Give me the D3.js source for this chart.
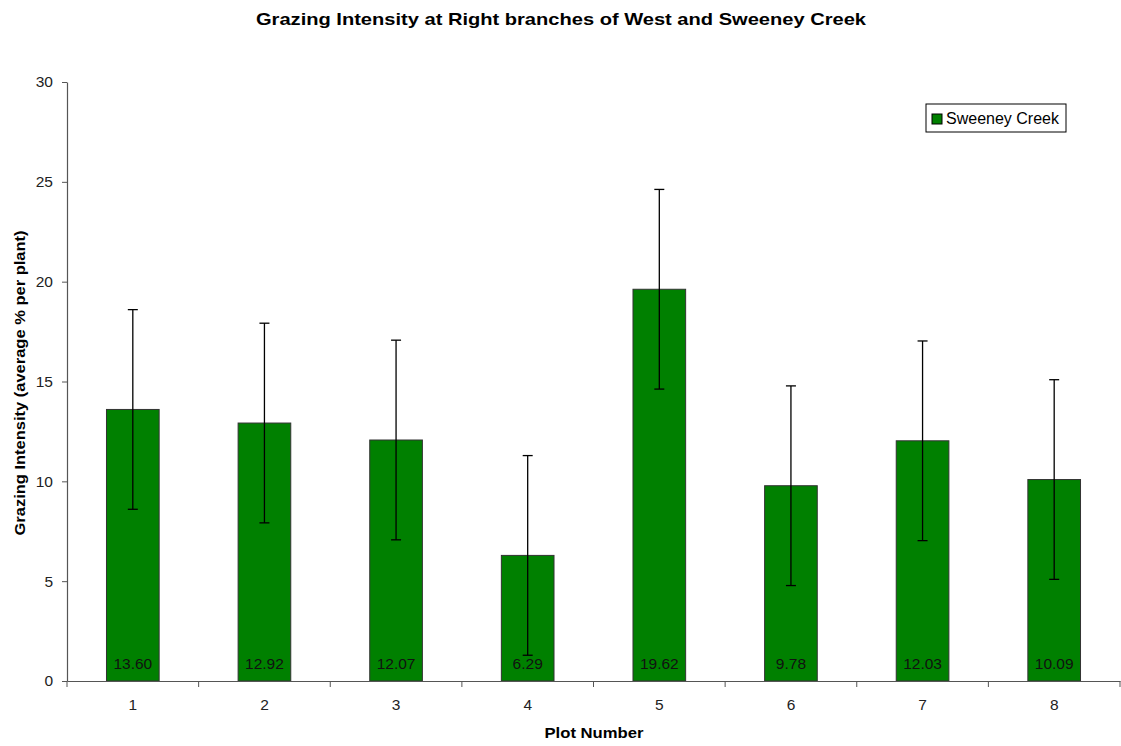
<!DOCTYPE html>
<html>
<head>
<meta charset="utf-8">
<script src="https://cdn.jsdelivr.net/npm/d3@7"></script>
<style>
    body { margin: 0; background: #fff; }
    svg { font-family: 'Liberation Sans', Arial, sans-serif; }
</style>
</head>
<body>
<svg id="chart" width="1121" height="746"></svg>
<script>
const plots = ['1', '2', '3', '4', '5', '6', '7', '8'];
const intensity = [13.60, 12.92, 12.07, 6.29, 19.62, 9.78, 12.03, 10.09];
const errors = [5, 5, 5, 5, 5, 5, 5, 5];
const yTicks = [0, 5, 10, 15, 20, 25, 30];

const svg = d3.select('#chart');
const margin = { left: 67, right: 1120, top: 82, bottom: 681 };

// Scales
const x = d3.scaleBand()
    .domain(plots)
    .range([margin.left, margin.right])
    .paddingInner(0.6)
    .paddingOuter(0.3);

const xOuter = d3.scaleBand()
    .domain(plots)
    .range([margin.left, margin.right]);

const y = d3.scaleLinear()
    .domain([0, 30])
    .range([margin.bottom, margin.top]);

// Title
svg.append('text')
    .attr('x', 561)
    .attr('y', 25)
    .attr('text-anchor', 'middle')
    .attr('font-size', 17)
    .attr('font-weight', 'bold')
    .attr('textLength', 610)
    .attr('lengthAdjust', 'spacingAndGlyphs')
    .text('Grazing Intensity at Right branches of West and Sweeney Creek');

// Bars
svg.append('g')
    .selectAll('rect')
    .data(intensity)
    .join('rect')
    .attr('x', (d, i) => x(plots[i]))
    .attr('y', d => y(d))
    .attr('width', x.bandwidth())
    .attr('height', d => y(0) - y(d))
    .attr('fill', '#008000')
    .attr('stroke', '#333')
    .attr('stroke-width', 1);

// Error bars
const err = svg.append('g')
    .attr('stroke', '#000')
    .attr('stroke-width', 1.3);

intensity.forEach((d, i) => {
    const cx = x(plots[i]) + x.bandwidth() / 2;
    const lo = y(d - errors[i]);
    const hi = y(d + errors[i]);
    err.append('line').attr('x1', cx).attr('x2', cx).attr('y1', lo).attr('y2', hi);
    err.append('line').attr('x1', cx - 5).attr('x2', cx + 5).attr('y1', lo).attr('y2', lo);
    err.append('line').attr('x1', cx - 5).attr('x2', cx + 5).attr('y1', hi).attr('y2', hi);
});

// Value labels
svg.append('g')
    .selectAll('text')
    .data(intensity)
    .join('text')
    .attr('x', (d, i) => x(plots[i]) + x.bandwidth() / 2)
    .attr('y', y(0) - 12)
    .attr('text-anchor', 'middle')
    .attr('font-size', 15.5)
    .attr('fill', '#111')
    .text(d => d.toFixed(2));

// Y axis
const yAxis = svg.append('g')
    .attr('transform', `translate(${margin.left},0)`)
    .call(d3.axisLeft(y).tickValues(yTicks).tickSize(5).tickPadding(9).tickSizeOuter(0));

// X axis
const xAxis = svg.append('g')
    .attr('transform', `translate(0,${margin.bottom})`)
    .call(d3.axisBottom(x).tickSize(0).tickPadding(18).tickSizeOuter(0));

// Boundary ticks between categories
xAxis.append('g')
    .selectAll('line')
    .data(plots.concat(['end']))
    .join('line')
    .attr('x1', (d, i) => i < plots.length ? xOuter(d) : margin.right)
    .attr('x2', (d, i) => i < plots.length ? xOuter(d) : margin.right)
    .attr('y1', 0)
    .attr('y2', 6)
    .attr('stroke', '#555');

[yAxis, xAxis].forEach(a => {
    a.selectAll('path.domain').attr('stroke', '#555').attr('stroke-width', 1.2);
    a.selectAll('.tick line').attr('stroke', '#555');
    a.selectAll('.tick text')
        .attr('font-family', "'Liberation Sans', Arial, sans-serif")
        .attr('font-size', 15.5)
        .attr('fill', '#222');
});

// Axis titles
svg.append('text')
    .attr('x', 594)
    .attr('y', 738)
    .attr('text-anchor', 'middle')
    .attr('font-size', 15)
    .attr('font-weight', 'bold')
    .attr('textLength', 99)
    .attr('lengthAdjust', 'spacingAndGlyphs')
    .text('Plot Number');

svg.append('text')
    .attr('transform', 'translate(25,383) rotate(-90)')
    .attr('text-anchor', 'middle')
    .attr('font-size', 15)
    .attr('font-weight', 'bold')
    .attr('textLength', 305)
    .attr('lengthAdjust', 'spacingAndGlyphs')
    .text('Grazing Intensity (average % per plant)');

// Legend
const legend = svg.append('g').attr('transform', 'translate(926,104)');
legend.append('rect')
    .attr('width', 140)
    .attr('height', 28)
    .attr('fill', '#fff')
    .attr('stroke', '#000');
legend.append('rect')
    .attr('x', 6)
    .attr('y', 10)
    .attr('width', 10)
    .attr('height', 10)
    .attr('fill', '#008000')
    .attr('stroke', '#000');
legend.append('text')
    .attr('x', 20)
    .attr('y', 20)
    .attr('font-size', 16)
    .text('Sweeney Creek');
</script>
</body>
</html>
